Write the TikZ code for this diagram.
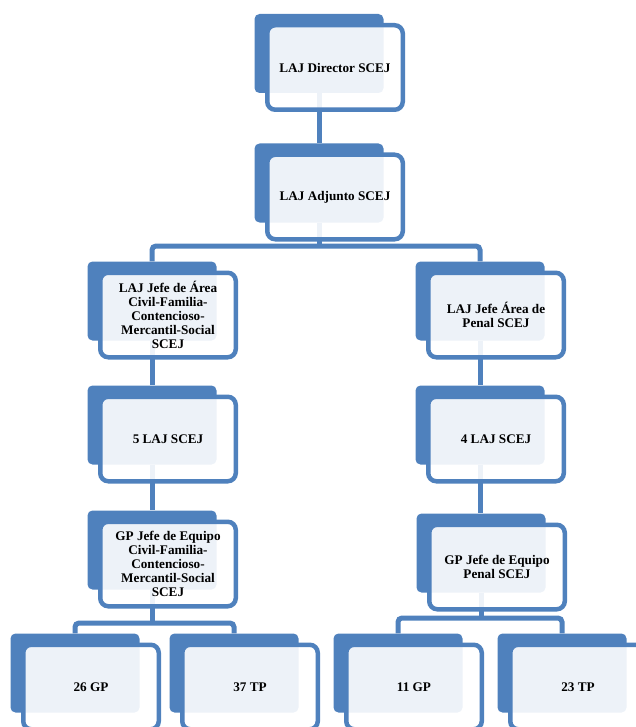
\documentclass[tikz,border=0pt]{standalone}
\usepackage{fontspec}
\setmainfont{Liberation Serif}
\pgfdeclarelayer{bg}
\pgfsetlayers{bg,main}
\definecolor{obl}{HTML}{4F81BD}
\tikzset{
 backbox/.style={rectangle, rounded corners=5pt, fill=obl, minimum width=129pt, minimum height=79pt, inner sep=0pt},
 frontbox/.style={rectangle, rounded corners=8pt, draw=obl, line width=4.5pt, fill=white, fill opacity=0.9, text opacity=1, minimum width=135.5pt, minimum height=84.5pt, inner sep=0pt, align=center, font=\bfseries\fontsize{13.2}{14.2}\selectfont},
 conn/.style={draw=obl, line width=5pt, rounded corners=4pt},
}
\newcommand{\orgunit}[4]{%
 \node[backbox] (#1b) at (#2,#3) {};
 \node[frontbox] (#1) at (#2+16,#3+14) {#4};
}
\begin{document}
\begin{tikzpicture}[x=1pt,y=-1pt]
\useasboundingbox (0,0) rectangle (636,727);
\clip (0,0) rectangle (636,727);
\orgunit{dir}{319}{53.5}{LAJ Director SCEJ}
\orgunit{adj}{319}{183}{LAJ Adjunto SCEJ}
\orgunit{ala}{152}{301}{LAJ Jefe de Área\\Civil-Familia-\\Contencioso-\\Mercantil-Social\\SCEJ}
\orgunit{alp}{480}{301}{LAJ Jefe Área de\\Penal SCEJ}
\orgunit{lc}{152}{425}{5 LAJ SCEJ}
\orgunit{lp}{480}{425}{4 LAJ SCEJ}
\orgunit{gc}{152}{550}{GP Jefe de Equipo\\Civil-Familia-\\Contencioso-\\Mercantil-Social\\SCEJ}
\orgunit{gp}{481}{553}{GP Jefe de Equipo\\Penal SCEJ}
\orgunit{ga}{75}{673}{26 GP}
\orgunit{tb}{234}{673}{37 TP}
\orgunit{gcc}{398}{673}{11 GP}
\orgunit{td}{562}{673}{23 TP}
\coordinate (busa) at (0,246);
\coordinate (busb) at (0,623);
\coordinate (busc) at (0,618);
\begin{pgfonlayer}{bg}
\draw[conn] (dirb.south) -- (adjb.north);
\draw[conn] (adjb.south) -- (adjb.south |- busa);
\draw[conn] (alab.north) -- (alab.north |- busa) -- (alpb.north |- busa) -- (alpb.north);
\draw[conn] (alab.south) -- (lcb.north);
\draw[conn] (alpb.south) -- (lpb.north);
\draw[conn] (lcb.south) -- (gcb.north);
\draw[conn] (lpb.south) -- (lpb.south |- gpb.north);
\draw[conn] (gcb.south) -- (gcb.south |- busb);
\draw[conn] (gab.north) -- (gab.north |- busb) -- (tbb.north |- busb) -- (tbb.north);
\draw[conn] (gpb.south) -- (gpb.south |- busc);
\draw[conn] (gccb.north) -- (gccb.north |- busc) -- (tdb.north |- busc) -- (tdb.north);
\end{pgfonlayer}
\end{tikzpicture}
\end{document}
